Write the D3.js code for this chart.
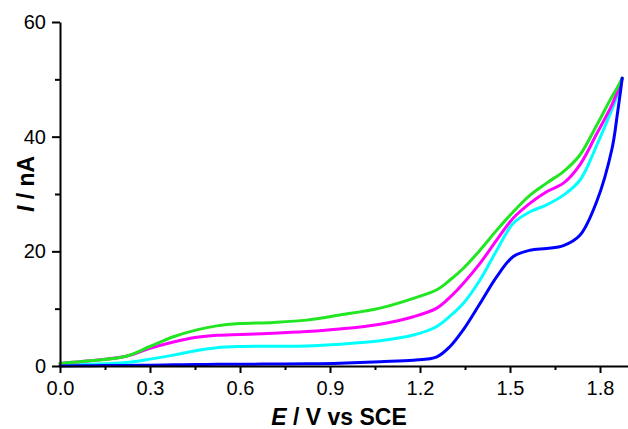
<!DOCTYPE html>
<html>
<head>
<meta charset="utf-8">
<script src="https://cdn.jsdelivr.net/npm/d3@7"></script>
<style>
  html, body { margin: 0; padding: 0; background: #fff; }
  svg { display: block; font-family: "Liberation Sans", Arial, sans-serif; }
</style>
</head>
<body>
<svg id="chart" width="628" height="429"></svg>
<script>
// Potential (V vs SCE)
const potentials = [0, 0.1, 0.22, 0.3, 0.378, 0.456, 0.522, 0.6, 0.711, 0.822, 0.933, 1.067, 1.178, 1.256, 1.3, 1.344, 1.4, 1.456, 1.511, 1.567, 1.622, 1.678, 1.733, 1.789, 1.84, 1.858, 1.874];
// Currents (nA)
const greenCurrent   = [0.45, 0.9, 1.7, 3.4, 5.1, 6.3, 7.0, 7.4, 7.6, 8.0, 8.9, 10.1, 11.8, 13.3, 15.0, 17.0, 20.2, 23.7, 26.9, 29.8, 31.9, 33.9, 36.8, 42.0, 47.0, 48.6, 50.2];
const magentaCurrent = [0.45, 0.9, 1.7, 3.1, 4.2, 5.0, 5.35, 5.5, 5.7, 6.0, 6.45, 7.3, 8.6, 10.1, 12.0, 14.4, 17.9, 22.0, 25.8, 28.4, 30.4, 31.9, 35.1, 40.5, 45.6, 47.9, 50.2];
const cyanCurrent    = [0.17, 0.3, 0.6, 1.2, 1.9, 2.7, 3.2, 3.4, 3.45, 3.5, 3.8, 4.4, 5.4, 6.9, 8.7, 10.9, 15.0, 20.2, 24.9, 26.9, 28.1, 29.8, 32.4, 38.5, 44.8, 47.4, 50.2];
const blueCurrent    = [0.0, 0.05, 0.1, 0.15, 0.2, 0.25, 0.3, 0.3, 0.35, 0.4, 0.5, 0.75, 1.0, 1.6, 3.4, 6.3, 10.9, 15.6, 19.1, 20.2, 20.5, 21.0, 22.8, 28.7, 37.9, 44.0, 50.2];

const seriesNames  = ["cyan", "magenta", "green", "blue"];
const seriesValues = [cyanCurrent, magentaCurrent, greenCurrent, blueCurrent];
const seriesColors = ["#00ffff", "#ff00ff", "#22e622", "#0000ff"];

const xMajorTicks = [0, 0.3, 0.6, 0.9, 1.2, 1.5, 1.8];
const xMinorTicks = [0.15, 0.45, 0.75, 1.05, 1.35, 1.65];
const yMajorTicks = [0, 20, 40, 60];
const yMinorTicks = [10, 30, 50];

const svg = d3.select("#chart");
const x = d3.scaleLinear().domain([0, 1.8933]).range([60, 628]);
const y = d3.scaleLinear().domain([0, 60]).range([366, 22]);

const line = d3.line()
  .x(d => x(d[0]))
  .y(d => y(d[1]))
  .curve(d3.curveCatmullRom.alpha(0.5));

seriesValues.forEach((vals, i) => {
  const pts = potentials.map((e, k) => [e, vals[k]]);
  svg.append("path")
    .datum(pts)
    .attr("fill", "none")
    .attr("stroke", seriesColors[i])
    .attr("stroke-width", 3)
    .attr("stroke-linejoin", "round")
    .attr("stroke-linecap", "round")
    .attr("d", line);
});

// X axis
const xAxisG = svg.append("g").attr("transform", "translate(0,366)");
xAxisG.call(d3.axisBottom(x).tickValues(xMajorTicks).tickSize(7).tickSizeOuter(0).tickPadding(8)
  .tickFormat(d3.format(".1f")));
const xMinorG = svg.append("g").attr("transform", "translate(0,366)");
xMinorG.call(d3.axisBottom(x).tickValues(xMinorTicks).tickSize(4).tickSizeOuter(0).tickFormat(""));
xMinorG.select(".domain").remove();

// Y axis
const yAxisG = svg.append("g").attr("transform", "translate(60,0)");
yAxisG.call(d3.axisLeft(y).tickValues(yMajorTicks).tickSize(8).tickSizeOuter(0).tickPadding(6));
const yMinorG = svg.append("g").attr("transform", "translate(60,0)");
yMinorG.call(d3.axisLeft(y).tickValues(yMinorTicks).tickSize(5).tickSizeOuter(0).tickFormat(""));
yMinorG.select(".domain").remove();

svg.selectAll(".domain").attr("stroke", "#000").attr("stroke-width", 2);
svg.selectAll(".tick line").attr("stroke", "#000").attr("stroke-width", 2);
svg.selectAll(".tick text")
  .attr("fill", "#000")
  .style("font-family", "'Liberation Sans', Arial, sans-serif")
  .style("font-size", "20px");

// Axis titles
const xt = svg.append("text")
  .attr("x", 339).attr("y", 425)
  .attr("text-anchor", "middle")
  .style("font-size", "23px").style("font-weight", "bold");
xt.append("tspan").style("font-style", "italic").text("E");
xt.append("tspan").text(" / V vs SCE");

const yt = svg.append("text")
  .attr("transform", "translate(34,184) rotate(-90)")
  .attr("text-anchor", "middle")
  .style("font-size", "23px").style("font-weight", "bold");
yt.append("tspan").style("font-style", "italic").text("I");
yt.append("tspan").text(" / nA");
</script>
</body>
</html>
